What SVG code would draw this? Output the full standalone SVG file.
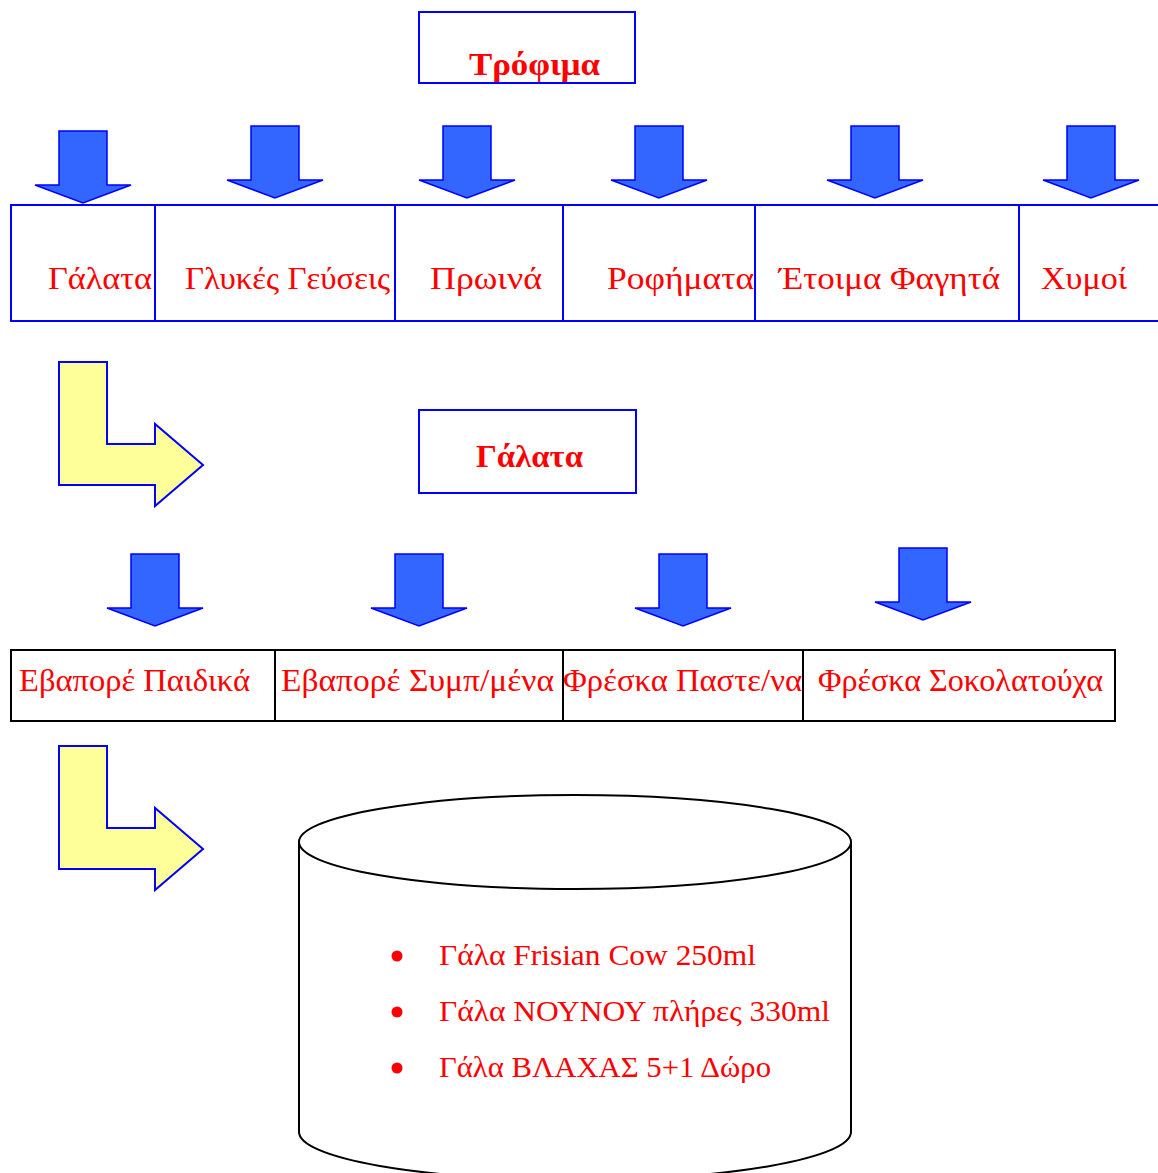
<svg xmlns="http://www.w3.org/2000/svg" width="1158" height="1173" viewBox="0 0 1158 1173">
<style>
.box{fill:#fff;stroke:#0000FF;stroke-width:2}
.cell{fill:none;stroke:#0000FF;stroke-width:2}
.cell2{fill:none;stroke:#000;stroke-width:2}
.t{font-family:"Liberation Serif","DejaVu Serif",serif;fill:#FF0000}
.b{font-weight:bold;font-size:32px}
.r1{font-size:32px}
.r2{font-size:32px}
.li{font-size:30px}
.yel{fill:#FFFF99;stroke:#0000FF;stroke-width:2;stroke-linejoin:miter}
.dn{fill:#3366FF;stroke:#0000FF;stroke-width:1.5}
</style>
<defs>
<path id="down" d="M-24,0 H24 V54 H48 L0,72 L-48,54 H-24 Z"/>
<path id="lArrow" d="M59,0 H107 V82 H155 V62 L203,103 L155,144 V123 H59 Z"/>
</defs>

<g id="node-trofima">
<rect class="box" x="419" y="12" width="216" height="71"/>
<text class="t b" x="469" y="75" textLength="131" lengthAdjust="spacingAndGlyphs">Τρόφιμα</text>
</g>

<g id="arrows-row1">
<use href="#down" class="dn" x="83" y="131"/>
<use href="#down" class="dn" x="275" y="126"/>
<use href="#down" class="dn" x="467" y="126"/>
<use href="#down" class="dn" x="659" y="126"/>
<use href="#down" class="dn" x="875" y="126"/>
<use href="#down" class="dn" x="1091" y="126"/>
</g>

<g id="row1">
<g id="cell-galata"><rect class="cell" x="11" y="205" width="144" height="116"/><text class="t r1" x="48" y="289" textLength="104" lengthAdjust="spacingAndGlyphs">Γάλατα</text></g>
<g id="cell-glykes"><rect class="cell" x="155" y="205" width="240" height="116"/><text class="t r1" x="185" y="289" textLength="205" lengthAdjust="spacingAndGlyphs">Γλυκές Γεύσεις</text></g>
<g id="cell-proina"><rect class="cell" x="395" y="205" width="168" height="116"/><text class="t r1" x="430" y="289" textLength="112" lengthAdjust="spacingAndGlyphs">Πρωινά</text></g>
<g id="cell-rofimata"><rect class="cell" x="563" y="205" width="192" height="116"/><text class="t r1" x="607" y="289" textLength="147" lengthAdjust="spacingAndGlyphs">Ροφήματα</text></g>
<g id="cell-etoima"><rect class="cell" x="755" y="205" width="264" height="116"/><text class="t r1" x="779" y="289" textLength="221" lengthAdjust="spacingAndGlyphs">Έτοιμα Φαγητά</text></g>
<g id="cell-xymoi"><rect class="cell" x="1019" y="205" width="145" height="116"/><text class="t r1" x="1041" y="289" textLength="86" lengthAdjust="spacingAndGlyphs">Χυμοί</text></g>
</g>

<g id="yellow-arrow-1" transform="translate(0,362)"><use href="#lArrow" class="yel"/></g>

<g id="node-galata">
<rect class="box" x="419" y="410" width="217" height="83"/>
<text class="t b" x="476" y="467" textLength="107" lengthAdjust="spacingAndGlyphs">Γάλατα</text>
</g>

<g id="arrows-row2">
<use href="#down" class="dn" x="155" y="554"/>
<use href="#down" class="dn" x="419" y="554"/>
<use href="#down" class="dn" x="683" y="554"/>
<use href="#down" class="dn" x="923" y="548"/>
</g>

<g id="row2">
<g id="cell-evap-paid"><rect class="cell2" x="11" y="650" width="264" height="71"/><text class="t r2" x="19" y="691" textLength="231" lengthAdjust="spacingAndGlyphs">Εβαπορέ Παιδικά</text></g>
<g id="cell-evap-symp"><rect class="cell2" x="275" y="650" width="288" height="71"/><text class="t r2" x="281" y="691" textLength="273" lengthAdjust="spacingAndGlyphs">Εβαπορέ Συμπ/μένα</text></g>
<g id="cell-fresk-past"><rect class="cell2" x="563" y="650" width="240" height="71"/><text class="t r2" x="563" y="691" textLength="239" lengthAdjust="spacingAndGlyphs">Φρέσκα Παστε/να</text></g>
<g id="cell-fresk-sok"><rect class="cell2" x="803" y="650" width="312" height="71"/><text class="t r2" x="818" y="691" textLength="285" lengthAdjust="spacingAndGlyphs">Φρέσκα Σοκολατούχα</text></g>
</g>

<g id="yellow-arrow-2" transform="translate(0,746)"><use href="#lArrow" class="yel"/></g>

<g id="node-cylinder">
<path d="M299,842 V1132 A276,48 0 0 0 851,1132 V842" fill="#fff" stroke="#000" stroke-width="2"/>
<ellipse cx="575" cy="842" rx="276" ry="47" fill="#fff" stroke="#000" stroke-width="2"/>
<circle cx="397" cy="956" r="5.5" fill="#FF0000"/>
<circle cx="397" cy="1012" r="5.5" fill="#FF0000"/>
<circle cx="397" cy="1068" r="5.5" fill="#FF0000"/>
<text class="t li" x="439" y="965" textLength="317" lengthAdjust="spacingAndGlyphs">Γάλα Frisian Cow 250ml</text>
<text class="t li" x="439" y="1021" textLength="391" lengthAdjust="spacingAndGlyphs">Γάλα ΝΟΥΝΟΥ πλήρες 330ml</text>
<text class="t li" x="439" y="1077" textLength="332" lengthAdjust="spacingAndGlyphs">Γάλα ΒΛΑΧΑΣ 5+1 Δώρο</text>
</g>
</svg>
